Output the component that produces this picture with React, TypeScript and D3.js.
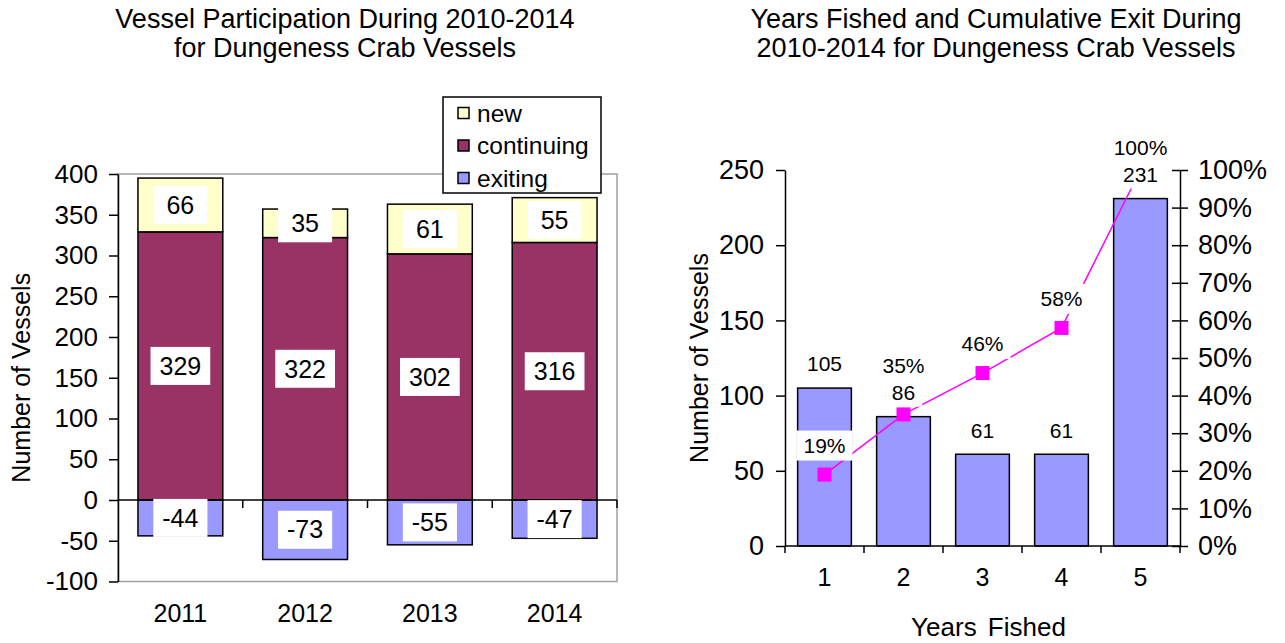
import React, { useEffect, useRef } from "react";
import * as d3 from "d3";

// left chart: vessel participation
const years = ["2011", "2012", "2013", "2014"];
const newVessels = [66, 35, 61, 55];
const continuingVessels = [329, 322, 302, 316];
const exitingVessels = [-44, -73, -55, -47];
const participationTicks = [-100, -50, 0, 50, 100, 150, 200, 250, 300, 350, 400];

// right chart: years fished + cumulative exit
const yearsFished = ["1", "2", "3", "4", "5"];
const vesselCounts = [105, 86, 61, 61, 231];
const cumulativeExit = [19, 35, 46, 58, 100];
const countTicks = [0, 50, 100, 150, 200, 250];
const pctTicks = [0, 10, 20, 30, 40, 50, 60, 70, 80, 90, 100];

const FONT = "'Liberation Sans', Arial, sans-serif";
const colors: Record<string, string> = { new: "#FFFFCC", continuing: "#993366", exiting: "#9999FF" };

export default function App() {
  const ref = useRef<SVGSVGElement>(null);

  useEffect(() => {
    const svg = d3.select(ref.current);
    svg.selectAll("*").remove();

    // label with white box behind it
    const addLabel = (g: any, x: number, y: number, txt: string, size: number, padX: number, h: number, minW: number) => {
      const lg = g.append("g");
      const rect = lg.append("rect").attr("fill", "white");
      const t = lg.append("text")
        .attr("x", x).attr("y", y).attr("dy", "0.35em")
        .attr("text-anchor", "middle")
        .attr("font-size", size).attr("font-family", FONT).attr("fill", "black")
        .text(txt);
      const w = Math.max(minW, (t.node() as SVGTextElement).getComputedTextLength() + padX * 2);
      rect.attr("x", x - w / 2).attr("y", y - h / 2).attr("width", w).attr("height", h);
    };

    const styleAxis = (g: any, size: number) => {
      g.attr("font-size", size).attr("font-family", FONT);
      g.selectAll("text").attr("fill", "black");
      g.selectAll("line").attr("stroke", "black").attr("stroke-width", 1.5);
      g.selectAll("path").attr("stroke", "black").attr("stroke-width", 1.5);
    };

    // ---------- left chart ----------
    const left = svg.append("g");
    const xL = d3.scaleBand().domain(years).range([118, 617]).paddingInner(0.32).paddingOuter(0.16);
    const yL = d3.scaleLinear().domain([-100, 400]).range([581.5, 174]);

    left.append("rect")
      .attr("x", 118).attr("y", yL(400)).attr("width", 617 - 118).attr("height", yL(-100) - yL(400))
      .attr("fill", "none").attr("stroke", "#a0a0a0").attr("stroke-width", 1.5);

    const rows = years.map((y, i) => ({ year: y, continuing: continuingVessels[i], new: newVessels[i], exiting: exitingVessels[i] }));
    const series = d3.stack<any>().keys(["continuing", "new", "exiting"]).offset(d3.stackOffsetDiverging)(rows);

    series.forEach(s => {
      left.append("g").selectAll("rect").data(s).join("rect")
        .attr("x", (d: any) => xL(d.data.year)!)
        .attr("width", xL.bandwidth())
        .attr("y", (d: any) => yL(Math.max(d[0], d[1])))
        .attr("height", (d: any) => Math.abs(yL(d[0]) - yL(d[1])))
        .attr("fill", colors[s.key]).attr("stroke", "black").attr("stroke-width", 1.5);
    });

    const axL = left.append("g").attr("transform", "translate(118,0)")
      .call(d3.axisLeft(yL).tickValues(participationTicks).tickFormat(d => String(d))
        .tickSize(9).tickSizeOuter(0).tickPadding(11));
    styleAxis(axL, 26);

    // zero line and category ticks
    left.append("line").attr("x1", 118).attr("x2", 617).attr("y1", yL(0)).attr("y2", yL(0))
      .attr("stroke", "black").attr("stroke-width", 1.5);
    d3.range(1, years.length + 1).forEach(i => {
      const bx = 118 + i * xL.step();
      left.append("line").attr("x1", bx).attr("x2", bx).attr("y1", yL(0)).attr("y2", yL(0) + 8)
        .attr("stroke", "black").attr("stroke-width", 1.5);
    });

    const axXL = left.append("g").attr("transform", "translate(0,601)")
      .call(d3.axisBottom(xL).tickSize(0).tickPadding(3));
    axXL.select(".domain").remove();
    styleAxis(axXL, 25);

    series.forEach(s => {
      s.forEach((d: any) => {
        addLabel(left, xL(d.data.year)! + xL.bandwidth() / 2, yL((d[0] + d[1]) / 2), String(d.data[s.key]), 25, 9, 38, 54);
      });
    });

    // legend
    const leg = left.append("g");
    leg.append("rect").attr("x", 443).attr("y", 97).attr("width", 158).attr("height", 96)
      .attr("fill", "white").attr("stroke", "black").attr("stroke-width", 1.5);
    ["new", "continuing", "exiting"].forEach((k, i) => {
      const cy = 113 + i * 32.5;
      leg.append("rect").attr("x", 458).attr("y", cy - 5.5).attr("width", 11).attr("height", 11)
        .attr("fill", colors[k]).attr("stroke", "black").attr("stroke-width", 1.5);
      leg.append("text").attr("x", 477).attr("y", cy).attr("dy", "0.35em")
        .attr("font-size", 24.5).attr("font-family", FONT).text(k);
    });

    left.append("text").attr("transform", `translate(30,${(yL(400) + yL(-100)) / 2}) rotate(-90)`)
      .attr("text-anchor", "middle").attr("font-size", 25).attr("font-family", FONT)
      .text("Number of Vessels");

    const tL = left.append("text").attr("text-anchor", "middle").attr("font-size", 27).attr("font-family", FONT);
    tL.append("tspan").attr("x", 345).attr("y", 28).text("Vessel Participation During 2010-2014");
    tL.append("tspan").attr("x", 345).attr("y", 57).text("for Dungeness Crab Vessels");

    // ---------- right chart ----------
    const right = svg.append("g");
    const xR = d3.scaleBand().domain(yearsFished).range([785, 1180]).paddingInner(0.32).paddingOuter(0.16);
    const yR = d3.scaleLinear().domain([0, 250]).range([546, 170]);
    const yP = d3.scaleLinear().domain([0, 100]).range([546, 170]);

    right.append("g").selectAll("rect").data(vesselCounts).join("rect")
      .attr("x", (d, i) => xR(yearsFished[i])!)
      .attr("width", xR.bandwidth())
      .attr("y", d => yR(d))
      .attr("height", d => yR(0) - yR(d))
      .attr("fill", "#9999FF").attr("stroke", "black").attr("stroke-width", 1.5);

    const axR = right.append("g").attr("transform", "translate(785,0)")
      .call(d3.axisLeft(yR).tickValues(countTicks).tickFormat(d => String(d))
        .tickSize(9).tickSizeOuter(0).tickPadding(12));
    styleAxis(axR, 27);

    const axP = right.append("g").attr("transform", "translate(1180,0)")
      .call(d3.axisRight(yP).tickValues(pctTicks).tickFormat(d => d + "%").tickSize(8).tickSizeOuter(0).tickPadding(10));
    styleAxis(axP, 27);
    axP.selectAll(".tick line").attr("x1", -8);

    right.append("line").attr("x1", 785).attr("x2", 1180).attr("y1", yR(0)).attr("y2", yR(0))
      .attr("stroke", "black").attr("stroke-width", 1.5);
    d3.range(0, yearsFished.length + 1).forEach(i => {
      const bx = 785 + i * xR.step();
      right.append("line").attr("x1", bx).attr("x2", bx).attr("y1", yR(0)).attr("y2", yR(0) + 7)
        .attr("stroke", "black").attr("stroke-width", 1.5);
    });

    const axXR = right.append("g").attr("transform", "translate(0,565)")
      .call(d3.axisBottom(xR).tickSize(0).tickPadding(3));
    axXR.select(".domain").remove();
    styleAxis(axXR, 25);

    const cx = (i: number) => xR(yearsFished[i])! + xR.bandwidth() / 2;
    const line = d3.line<number>().x((d, i) => cx(i)).y(d => yP(d));
    right.append("path").attr("d", line(cumulativeExit)).attr("fill", "none")
      .attr("stroke", "#FF00FF").attr("stroke-width", 1.5);
    right.append("g").selectAll("rect").data(cumulativeExit).join("rect")
      .attr("x", (d, i) => cx(i) - 7).attr("y", d => yP(d) - 7)
      .attr("width", 14).attr("height", 14).attr("fill", "#FF00FF");

    vesselCounts.forEach((v, i) => {
      const barLabelY = yR(v) - 24;
      let pctY = yP(cumulativeExit[i]) - 29;
      if (Math.abs(pctY - barLabelY) < 36) pctY = barLabelY - 27;
      addLabel(right, cx(i), barLabelY, String(v), 21, 7, 28, 0);
      addLabel(right, cx(i), pctY, cumulativeExit[i] + "%", 21, 7, 30, 0);
    });

    right.append("text").attr("transform", `translate(708,${(yR(0) + yR(250)) / 2}) rotate(-90)`)
      .attr("text-anchor", "middle").attr("font-size", 25).attr("font-family", FONT)
      .text("Number of Vessels");
    right.append("text").attr("x", (785 + 1180) / 2 + 6).attr("y", 636)
      .attr("text-anchor", "middle").attr("font-size", 26).attr("font-family", FONT)
      .attr("word-spacing", 4).text("Years Fished");

    const tR = right.append("text").attr("text-anchor", "middle").attr("font-size", 27).attr("font-family", FONT);
    tR.append("tspan").attr("x", 996).attr("y", 28).text("Years Fished and Cumulative Exit During");
    tR.append("tspan").attr("x", 996).attr("y", 57).text("2010-2014 for Dungeness Crab Vessels");
  }, []);

  return (
    <svg ref={ref} width={1285} height={643}
      style={{ position: "absolute", left: 0, top: 0, background: "white" }} />
  );
}
